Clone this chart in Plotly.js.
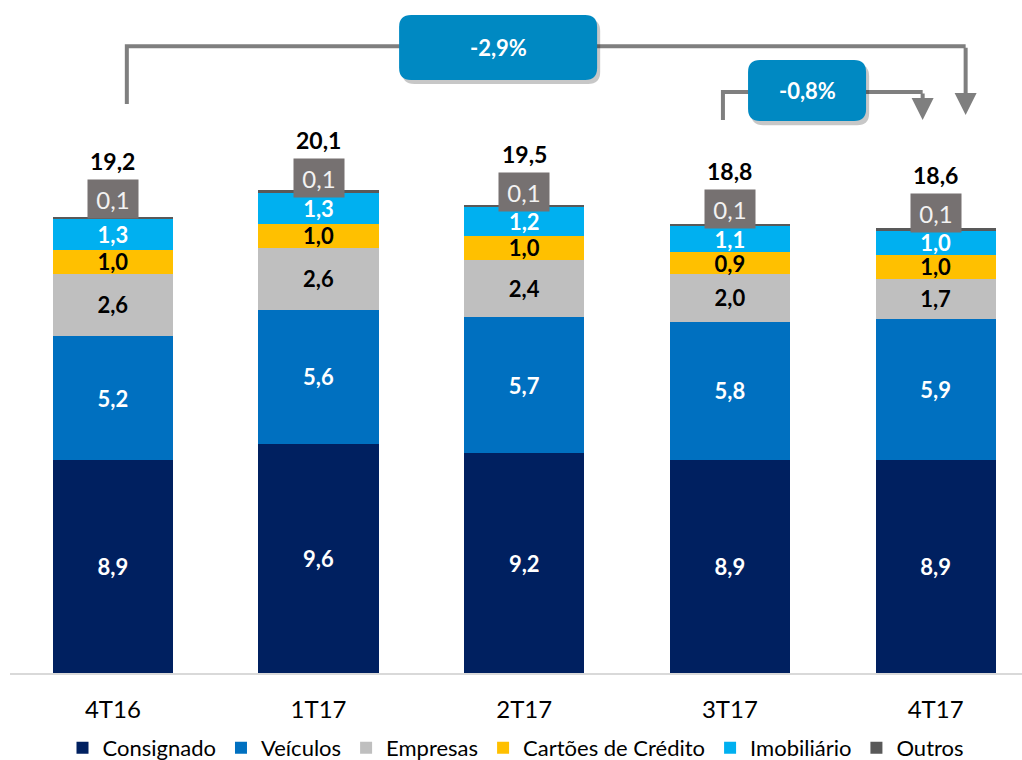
<!DOCTYPE html>
<html>
<head>
<meta charset="utf-8">
<script src="https://cdn.plot.ly/plotly-3.0.1.min.js"></script>
<style>
  html, body { margin: 0; padding: 0; background: #fff; }
  #chart { width: 1022px; height: 760px; }
</style>
</head>
<body>
<div id="chart"></div>
<script>
const quarters = ['4T16', '1T17', '2T17', '3T17', '4T17'];

const consignado = [8.9, 9.6, 9.2, 8.9, 8.9];
const veiculos = [5.2, 5.6, 5.7, 5.8, 5.9];
const empresas = [2.6, 2.6, 2.4, 2.0, 1.7];
const cartoes = [1.0, 1.0, 1.0, 0.9, 1.0];
const imobiliario = [1.3, 1.3, 1.2, 1.1, 1.0];
const outros = [0.1, 0.1, 0.1, 0.1, 0.1];
const totals = [19.2, 20.1, 19.5, 18.8, 18.6];

const FONT = 'Lato, "Open Sans", sans-serif';

function fmt(v) {
  return v.toFixed(1).replace('.', ',');
}

function seg(name, values, color, textColor) {
  return {
    type: 'bar',
    name: name,
    x: quarters,
    y: values,
    width: 0.584,
    marker: { color: color, line: { width: 0 } },
    text: values.map(fmt),
    textposition: 'inside',
    insidetextanchor: 'middle',
    constraintext: 'none',
    textangle: 0,
    textfont: { family: FONT, size: 22, color: textColor, weight: 700 },
    hoverinfo: 'skip',
  };
}

const data = [
  seg('Consignado', consignado, '#002060', '#ffffff'),
  seg('Veículos', veiculos, '#0070c0', '#ffffff'),
  seg('Empresas', empresas, '#bfbfbf', '#000000'),
  seg('Cartões de Crédito', cartoes, '#ffc000', '#000000'),
  seg('Imobiliário', imobiliario, '#00b0f0', '#ffffff'),
  {
    type: 'bar',
    name: 'Outros',
    x: quarters,
    y: outros,
    width: 0.584,
    marker: { color: '#595959' },
    textposition: 'none',
    hoverinfo: 'skip',
  },
];

// rounded rectangle in pixels around an anchor point
function roundRect(w, h, r) {
  const x0 = -w / 2, x1 = w / 2, y0 = -h / 2, y1 = h / 2;
  return `M ${x0 + r},${y0} L ${x1 - r},${y0} Q ${x1},${y0} ${x1},${y0 + r} ` +
    `L ${x1},${y1 - r} Q ${x1},${y1} ${x1 - r},${y1} L ${x0 + r},${y1} ` +
    `Q ${x0},${y1} ${x0},${y1 - r} L ${x0},${y0 + r} Q ${x0},${y0} ${x0 + r},${y0} Z`;
}

// growth brackets: left leg x, right arrow x, line level, leg bottom, arrow tip
const brackets = [
  { label: '-2,9%', x0: 0.068, x1: 4.146, top: 26.23, left: 23.81, tip: 23.35,
    bx: 1.873, by: 26.17, bw: 198, bh: 65 },
  { label: '-0,8%', x0: 2.966, x1: 3.937, top: 24.31, left: 23.14, tip: 23.14,
    bx: 3.375, by: 24.37, bw: 118, bh: 61 },
];

const shapes = [];
const annotations = [];

brackets.forEach((b) => {
  shapes.push({
    type: 'path', xref: 'x', yref: 'y',
    path: `M ${b.x0},${b.left} L ${b.x0},${b.top} L ${b.x1},${b.top}`,
    line: { color: '#7f7f7f', width: 4 },
  });
  annotations.push({
    x: b.x1, y: b.tip, ax: b.x1, ay: b.top, axref: 'x', ayref: 'y',
    xref: 'x', yref: 'y', text: '', showarrow: true,
    arrowhead: 2, arrowsize: 1.1, arrowwidth: 4, arrowcolor: '#7f7f7f',
  });
});

brackets.forEach((b) => {
  shapes.push({
    type: 'path', xref: 'x', yref: 'y', xsizemode: 'pixel', ysizemode: 'pixel',
    xanchor: b.bx + 0.015, yanchor: b.by - 0.17,
    path: roundRect(b.bw, b.bh, 12),
    fillcolor: 'rgba(0,0,0,0.22)', line: { width: 0 },
  });
  shapes.push({
    type: 'path', xref: 'x', yref: 'y', xsizemode: 'pixel', ysizemode: 'pixel',
    xanchor: b.bx, yanchor: b.by,
    path: roundRect(b.bw, b.bh, 12),
    fillcolor: '#0089c2', line: { width: 0 },
  });
  annotations.push({
    x: b.bx, y: b.by, xref: 'x', yref: 'y', text: b.label, showarrow: false,
    font: { family: FONT, size: 22, color: '#ffffff', weight: 700 },
  });
});

quarters.forEach((q, i) => {
  annotations.push({
    x: q, y: totals[i], xref: 'x', yref: 'y', yshift: 53,
    text: fmt(totals[i]), showarrow: false,
    font: { family: FONT, size: 23, color: '#000000', weight: 700 },
  });
  annotations.push({
    x: q, y: totals[i], xref: 'x', yref: 'y', yshift: 15,
    text: fmt(outros[i]), showarrow: false,
    width: 50, height: 38, borderpad: 0,
    bgcolor: '#767171',
    font: { family: FONT, size: 24, color: '#f2f2f2' },
  });
});

const layout = {
  width: 1022,
  height: 760,
  margin: { l: 10, r: 0, t: 0, b: 87 },
  paper_bgcolor: '#ffffff',
  plot_bgcolor: '#ffffff',
  barmode: 'stack',
  separators: ',.',
  font: { family: FONT, color: '#000000' },
  showlegend: true,
  legend: {
    orientation: 'h',
    x: 0.5, xanchor: 'center',
    yref: 'container',
    y: 0.016, yanchor: 'middle',
    bgcolor: 'rgba(0,0,0,0)',
    font: { family: FONT, size: 22, color: '#000000' },
    traceorder: 'normal',
    itemclick: false,
  },
  xaxis: {
    type: 'category',
    range: [-0.5, 4.42],
    showline: true,
    linecolor: '#d9d9d9',
    linewidth: 2,
    ticks: '',
    ticklabelstandoff: 14,
    tickfont: { family: FONT, size: 24, color: '#000000' },
    showgrid: false,
    zeroline: false,
  },
  yaxis: {
    range: [0, 28.16],
    visible: false,
    showgrid: false,
    zeroline: false,
  },
  shapes: shapes,
  annotations: annotations,
};

Plotly.newPlot('chart', data, layout, { displayModeBar: false, staticPlot: true });
</script>
</body>
</html>
